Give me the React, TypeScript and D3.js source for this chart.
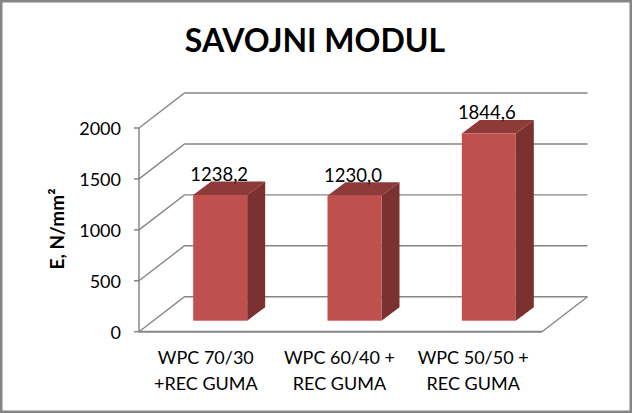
import React from "react";
import * as d3 from "d3";

const categories = [["WPC 70/30", "+REC GUMA"], ["WPC 60/40 +", "REC GUMA"], ["WPC 50/50 +", "REC GUMA"]];
const values = [1238.2, 1230.0, 1844.6];
const valueLabels = ["1238,2", "1230,0", "1844,6"];
const yTicks = [0, 500, 1000, 1500, 2000];
const title = "SAVOJNI MODUL";
const yTitle = "E, N/mm²";

const W = 632, H = 413;
const F = "Lato, 'Open Sans', sans-serif";
const GRID = "#868686";

export default function App() {
  const y = d3.scaleLinear().domain([0, 2000]).range([331.7, 128]);
  const yBar = d3.scaleLinear().domain([0, 2000]).range([320.7, 117.7]);
  const x = d3.scaleBand<number>().domain([0, 1, 2]).range([139, 542]).paddingInner(0.598).paddingOuter(0.299);
  const xLabel = d3.scaleBand<number>().domain([0, 1, 2]).range([139, 540]);
  const depthX = 45.5, depthY = 35;
  const barOffX = 14;
  const bDX = 18, bDY = 13.5;
  const bw = x.bandwidth();
  const poly = (pts: number[][]) => pts.map((p) => p.join(",")).join(" ");
  return (
    <svg width={W} height={H} style={{ position: "fixed", left: 0, top: 0, background: "#fff" }}>
      <rect x={1} y={1} width={W - 2} height={H - 2} fill="#fff" stroke="#868686" strokeWidth={3} />
      <text x={315} y={52} textAnchor="middle" fontFamily={F} fontWeight={700} fontSize={32} fill="#000">{title}</text>
      {yTicks.map((t) => (
        <g key={t}>
          <polyline points={poly([[139, y(t)], [139 + depthX, y(t) - depthY], [139 + depthX + 403, y(t) - depthY]])} fill="none" stroke={GRID} strokeWidth={1.4} />
          <line x1={134} x2={139} y1={y(t)} y2={y(t)} stroke={GRID} strokeWidth={1.5} />
          <text x={121} y={y(t) + 7} textAnchor="end" fontFamily={F} fontSize={18} fill="#000">{t}</text>
        </g>
      ))}
      <line x1={139} x2={139} y1={y(0)} y2={y(2000)} stroke={GRID} strokeWidth={1.5} />
      <line x1={139} x2={542} y1={y(0)} y2={y(0)} stroke={GRID} strokeWidth={2} />
      <line x1={542} x2={542 + depthX} y1={y(0)} y2={y(0) - depthY} stroke={GRID} strokeWidth={1.4} />
      {values.map((v, i) => {
        const x0 = (x(i) as number) + barOffX;
        const x1 = x0 + bw;
        const top = yBar(v);
        const base = yBar(0);
        return (
          <g key={i}>
            <polygon points={poly([[x0, top], [x1, top], [x1 + bDX, top - bDY], [x0 + bDX, top - bDY]])} fill="#8E3A38" />
            <polygon points={poly([[x1, top], [x1 + bDX, top - bDY], [x1 + bDX, base - bDY], [x1, base]])} fill="#7A3130" />
            <rect x={x0} y={top} width={bw} height={base - top} fill="#C0504D" />
            <text x={(x0 + x1) / 2 - 1 - i * 0.5} y={top - 14} textAnchor="middle" fontFamily={F} fontSize={18.5} fill="#000">{valueLabels[i]}</text>
          </g>
        );
      })}
      {categories.map((lines, i) => {
        const cx = (xLabel(i) as number) + xLabel.bandwidth() / 2;
        return (
          <text key={i} x={cx} textAnchor="middle" fontFamily={F} fontSize={18} fill="#000">
            {lines.map((l, j) => (
              <tspan key={j} x={cx} y={364 + j * 26}>{l}</tspan>
            ))}
          </text>
        );
      })}
      <text transform="translate(64,229) rotate(-90)" textAnchor="middle" fontFamily={F} fontWeight={700} fontSize={19} fill="#000">{yTitle}</text>
    </svg>
  );
}
